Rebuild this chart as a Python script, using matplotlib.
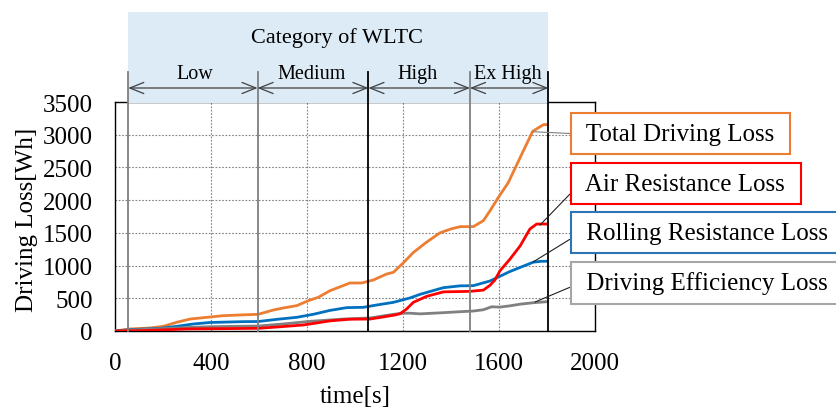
import matplotlib
matplotlib.use('Agg')
import matplotlib.pyplot as plt
from matplotlib.patches import Rectangle

plt.rcParams['font.family'] = ['Liberation Serif', 'DejaVu Serif']

# data (time [s], loss [Wh])
t_total = [0, 62, 146, 201, 257, 313, 396, 451, 521, 597, 660, 701, 757, 806, 847, 896,
           979, 1028, 1076, 1132, 1160, 1201, 1243, 1299, 1354, 1400, 1438, 1493, 1535,
           1563, 1597, 1639, 1688, 1740, 1757, 1785, 1800]
total = [0, 31, 46, 71, 133, 183, 214, 234, 245, 255, 321, 352, 387, 464, 515, 616,
         734, 734, 779, 871, 897, 1040, 1200, 1360, 1500, 1560, 1595, 1595, 1687,
         1840, 2040, 2270, 2650, 3050, 3090, 3153, 3155]

t_air = [0, 118, 299, 597, 674, 785, 896, 979, 1063, 1118, 1167, 1188, 1215, 1243, 1299,
         1368, 1479, 1535, 1563, 1583, 1604, 1646, 1688, 1729, 1757, 1800]
air = [0, 5, 31, 41, 61, 92, 155, 180, 183, 215, 245, 265, 336, 438, 530,
       598, 606, 625, 700, 780, 920, 1100, 1300, 1560, 1635, 1635]

t_roll = [0, 62, 188, 257, 326, 396, 535, 597, 674, 757, 826, 896, 965, 1035, 1090, 1160,
          1229, 1271, 1368, 1438, 1493, 1563, 1646, 1743, 1778, 1800]
roll = [0, 20, 41, 71, 107, 130, 143, 145, 178, 209, 255, 315, 357, 362, 397, 438,
        505, 560, 662, 690, 693, 765, 910, 1052, 1066, 1066]

t_eff = [0, 62, 257, 396, 597, 701, 813, 951, 1063, 1160, 1201, 1229, 1271, 1368, 1438,
         1493, 1535, 1569, 1604, 1646, 1688, 1743, 1800]
eff = [0, 15, 46, 66, 76, 107, 148, 183, 199, 255, 272, 272, 262, 280, 295,
       305, 325, 370, 365, 385, 410, 432, 448]

# WLTC phases
bounds = [55, 594, 1056, 1479, 1806]
phases = ['Low', 'Medium', 'High', 'Ex High']
phase_x = [333, 821, 1262, 1638]

fig = plt.figure(figsize=(8.36, 4.10), dpi=100)
ax = fig.add_axes([115/836, 78/410, 480/836, 229/410])

ax.plot(t_total, total, color='#ED7D31', lw=2.0, zorder=3)
ax.plot(t_roll, roll, color='#0070C0', lw=2.0, zorder=3)
ax.plot(t_eff, eff, color='#808080', lw=2.0, zorder=3)
ax.plot(t_air, air, color='#FF0000', lw=2.0, zorder=3)

ax.set_xlim(0, 2000)
ax.set_ylim(0, 3500)
ax.set_xticks(range(0, 2001, 400))
ax.set_yticks(range(0, 3501, 500))
ax.tick_params(length=0, labelsize=18)
ax.tick_params(axis='y', pad=16)
ax.tick_params(axis='x', pad=15)
ax.grid(True, color='#808080', lw=0.8, linestyle=(0, (1.5, 1.5)))
ax.set_axisbelow(True)
for s in ax.spines.values():
    s.set_linewidth(1.0)

ax.set_xlabel('time[s]', fontsize=18)
ax.set_ylabel('Driving Loss[Wh]', fontsize=18)
ax.xaxis.set_label_coords(0.5, -0.235)
ax.yaxis.set_label_coords(-0.16, 0.49)

# category header
ax.add_patch(Rectangle((bounds[0], 3492), bounds[-1] - bounds[0], 4875 - 3492,
                       facecolor='#DDEBF7', edgecolor='none', clip_on=False, zorder=4))
ax.text(925, 4500, 'Category of WLTC', fontsize=16, ha='center', va='center',
        clip_on=False, zorder=5)
line_cols = ['#7f7f7f', '#7f7f7f', 'black', '#7f7f7f', 'black']
for b, c in zip(bounds, line_cols):
    ax.plot([b, b], [0, 3960], color=c, lw=1.3, clip_on=False, zorder=5)
for i, name in enumerate(phases):
    ax.annotate('', xy=(bounds[i + 1], 3714), xytext=(bounds[i], 3714),
                arrowprops=dict(arrowstyle='<->,head_length=1.0,head_width=0.4',
                                color='#404040', lw=0.9, shrinkA=0, shrinkB=0),
                annotation_clip=False, zorder=5)
    ax.text(phase_x[i], 3940, name, fontsize=14.5, ha='center', va='center',
            clip_on=False, zorder=5)

# labels with leader lines
labels = ['Total Driving Loss', 'Air Resistance Loss',
          'Rolling Resistance Loss', 'Driving Efficiency Loss']
anchor_t = [1742, 1771, 1742, 1750]
anchor_v = [3046, 1620, 1055, 443]
box_v = [3011, 2254, 1498, 734]
box_cols = ['#ED7D31', '#FF0000', '#2E75B6', '#A6A6A6']
lead_cols = ['#808080', '#202020', '#202020', '#202020']
for lab, at, av, bv, bc, lc in zip(labels, anchor_t, anchor_v, box_v, box_cols, lead_cols):
    ax.annotate(' ' + lab + ' ', xy=(at, av), xytext=(1938, bv),
                fontsize=18, ha='left', va='center', annotation_clip=False,
                bbox=dict(boxstyle='square,pad=0.38', facecolor='white',
                          edgecolor=bc, lw=1.5),
                arrowprops=dict(arrowstyle='-', color=lc, lw=0.8,
                                relpos=(0, 0.5), shrinkA=0, shrinkB=0),
                zorder=6)

fig.savefig('out.png', dpi=100)
